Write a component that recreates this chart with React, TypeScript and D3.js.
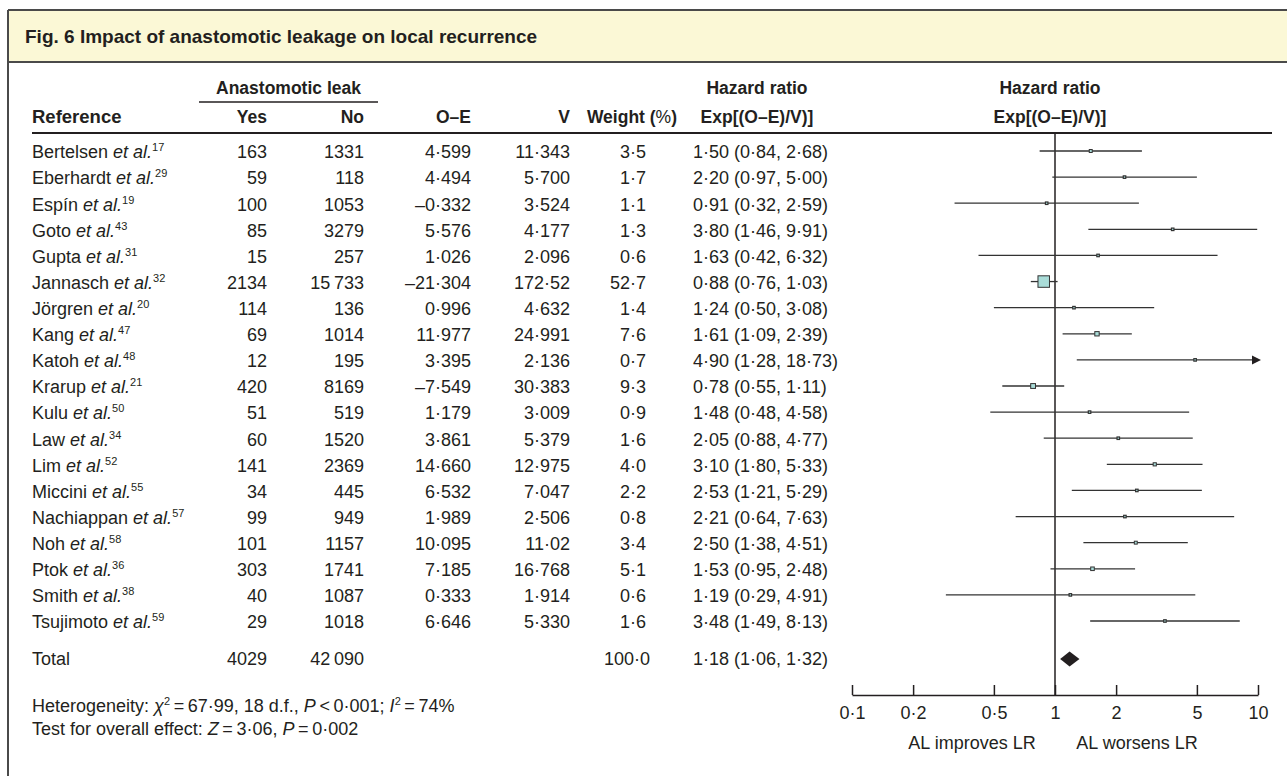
import * as d3 from 'd3';

const studies = ['Bertelsen', 'Eberhardt', 'Espín', 'Goto', 'Gupta', 'Jannasch', 'Jörgren', 'Kang', 'Katoh', 'Krarup', 'Kulu', 'Law', 'Lim', 'Miccini', 'Nachiappan', 'Noh', 'Ptok', 'Smith', 'Tsujimoto'];
const refNums = ['17', '29', '19', '43', '31', '32', '20', '47', '48', '21', '50', '34', '52', '55', '57', '58', '36', '38', '59'];
const leakYes = ['163', '59', '100', '85', '15', '2134', '114', '69', '12', '420', '51', '60', '141', '34', '99', '101', '303', '40', '29'];
const leakNo = ['1331', '118', '1053', '3279', '257', '15\u2009733', '136', '1014', '195', '8169', '519', '1520', '2369', '445', '949', '1157', '1741', '1087', '1018'];
const oMinusE = ['4·599', '4·494', '–0·332', '5·576', '1·026', '–21·304', '0·996', '11·977', '3·395', '–7·549', '1·179', '3·861', '14·660', '6·532', '1·989', '10·095', '7·185', '0·333', '6·646'];
const variance = ['11·343', '5·700', '3·524', '4·177', '2·096', '172·52', '4·632', '24·991', '2·136', '30·383', '3·009', '5·379', '12·975', '7·047', '2·506', '11·02', '16·768', '1·914', '5·330'];
const weights = [3.5, 1.7, 1.1, 1.3, 0.6, 52.7, 1.4, 7.6, 0.7, 9.3, 0.9, 1.6, 4.0, 2.2, 0.8, 3.4, 5.1, 0.6, 1.6];
const hr = [1.50, 2.20, 0.91, 3.80, 1.63, 0.88, 1.24, 1.61, 4.90, 0.78, 1.48, 2.05, 3.10, 2.53, 2.21, 2.50, 1.53, 1.19, 3.48];
const hrLow = [0.84, 0.97, 0.32, 1.46, 0.42, 0.76, 0.50, 1.09, 1.28, 0.55, 0.48, 0.88, 1.80, 1.21, 0.64, 1.38, 0.95, 0.29, 1.49];
const hrHigh = [2.68, 5.00, 2.59, 9.91, 6.32, 1.03, 3.08, 2.39, 18.73, 1.11, 4.58, 4.77, 5.33, 5.29, 7.63, 4.51, 2.48, 4.91, 8.13];

const totalYes = '4029';
const totalNo = '42\u2009090';
const totalWeight = 100.0;
const totalHr = 1.18;
const totalLow = 1.06;
const totalHigh = 1.32;

const axisTicks = [0.1, 0.2, 0.5, 1, 2, 5, 10];

const W = 1287;
const H = 776;
const FONT = '"Liberation Sans", Arial, Helvetica, sans-serif';
const INK = '#231f20';
const FS = 18;
const FS_HEAD = 17.5;

const fmt = (v: number, d = 2) => v.toFixed(d).replace('.', '·');

export default function App() {
  const x = d3.scaleLog().domain([0.1, 10]).range([852, 1258]);
  const y = d3.scalePoint<string>().domain(studies).range([152, 622]);
  const totalY = 659;
  const axisY = 695;
  const side = d3.scaleSqrt().domain([0, 52.7]).range([0, 11.5]);

  const colYes = 267;
  const colNo = 364;
  const colOE = 471;
  const colV = 570;
  const colW = 646;
  const colHR = 693;

  const axisRef = (node: SVGGElement | null) => {
    if (!node) return;
    const g = d3.select(node);
    g.selectAll('*').remove();
    g.call(
      d3.axisBottom(x)
        .tickValues(axisTicks)
        .tickFormat((d: d3.NumberValue) => String(d.valueOf()).replace('.', '·'))
        .tickSizeInner(-10)
        .tickSizeOuter(0)
        .tickPadding(11)
    );
    g.select('.domain').attr('stroke', INK).attr('stroke-width', 1.5);
    g.selectAll('.tick line').attr('stroke', INK).attr('stroke-width', 1.5);
    g.selectAll('.tick text')
      .attr('fill', INK)
      .style('font-family', FONT)
      .style('font-size', `${FS}px`);
  };

  const numStyle = { fontFamily: FONT, fontSize: FS, fill: INK } as const;
  const headStyle = { fontFamily: FONT, fontSize: FS_HEAD, fill: INK, fontWeight: 700 } as const;

  return (
    <svg width={W} height={H} style={{ position: 'absolute', left: 0, top: 0, background: '#fff' }}>
      {/* frame + title band */}
      <rect x={8} y={10} width={W} height={52} fill="#fbf8d6" />
      <line x1={8} x2={W} y1={10} y2={10} stroke="#4a4a4a" strokeWidth={2} />
      <line x1={8} x2={W} y1={62} y2={62} stroke="#4a4a4a" strokeWidth={2} />
      <line x1={8} x2={8} y1={10} y2={H} stroke="#4a4a4a" strokeWidth={2} />
      <text x={25} y={36} dy="0.35em" style={{ fontFamily: FONT, fontSize: 19, fontWeight: 700, fill: INK }}>
        Fig. 6 Impact of anastomotic leakage on local recurrence
      </text>

      {/* column headers */}
      <text x={(199 + 378) / 2} y={88} dy="0.35em" textAnchor="middle" style={headStyle}>Anastomotic leak</text>
      <line x1={199} x2={378} y1={102} y2={102} stroke={INK} strokeWidth={1.5} />
      <text x={32} y={117} dy="0.35em" style={{ ...headStyle, fontSize: 18.5 }}>Reference</text>
      <text x={colYes} y={117} dy="0.35em" textAnchor="end" style={headStyle}>Yes</text>
      <text x={colNo} y={117} dy="0.35em" textAnchor="end" style={headStyle}>No</text>
      <text x={colOE} y={117} dy="0.35em" textAnchor="end" style={headStyle}>O–E</text>
      <text x={colV} y={117} dy="0.35em" textAnchor="end" style={headStyle}>V</text>
      <text x={677} y={117} dy="0.35em" textAnchor="end" style={headStyle}>
        Weight (<tspan fontWeight={400}>%</tspan>)
      </text>
      <text x={757} y={88} dy="0.35em" textAnchor="middle" style={headStyle}>Hazard ratio</text>
      <text x={757} y={117} dy="0.35em" textAnchor="middle" style={headStyle}>Exp[(O–E)/V)]</text>
      <text x={1050} y={88} dy="0.35em" textAnchor="middle" style={headStyle}>Hazard ratio</text>
      <text x={1050} y={117} dy="0.35em" textAnchor="middle" style={headStyle}>Exp[(O–E)/V)]</text>
      <line x1={32} x2={1272} y1={133} y2={133} stroke={INK} strokeWidth={2} />

      {/* study rows */}
      {studies.map((s, i) => {
        const yy = y(s) as number;
        return (
          <g key={s}>
            <text x={32} y={yy} dy="0.35em" style={numStyle}>
              {s} <tspan fontStyle="italic">et al.</tspan>
              <tspan fontSize={11} dy={-7}>{refNums[i]}</tspan>
            </text>
            <text x={colYes} y={yy} dy="0.35em" textAnchor="end" style={numStyle}>{leakYes[i]}</text>
            <text x={colNo} y={yy} dy="0.35em" textAnchor="end" style={numStyle}>{leakNo[i]}</text>
            <text x={colOE} y={yy} dy="0.35em" textAnchor="end" style={numStyle}>{oMinusE[i]}</text>
            <text x={colV} y={yy} dy="0.35em" textAnchor="end" style={numStyle}>{variance[i]}</text>
            <text x={colW} y={yy} dy="0.35em" textAnchor="end" style={numStyle}>{fmt(weights[i], 1)}</text>
            <text x={colHR} y={yy} dy="0.35em" style={numStyle}>
              {`${fmt(hr[i])} (${fmt(hrLow[i])}, ${fmt(hrHigh[i])})`}
            </text>
          </g>
        );
      })}

      {/* total row */}
      <text x={32} y={totalY} dy="0.35em" style={numStyle}>Total</text>
      <text x={colYes} y={totalY} dy="0.35em" textAnchor="end" style={numStyle}>{totalYes}</text>
      <text x={colNo} y={totalY} dy="0.35em" textAnchor="end" style={numStyle}>{totalNo}</text>
      <text x={colW + 4} y={totalY} dy="0.35em" textAnchor="end" style={numStyle}>{fmt(totalWeight, 1)}</text>
      <text x={colHR} y={totalY} dy="0.35em" style={numStyle}>
        {`${fmt(totalHr)} (${fmt(totalLow)}, ${fmt(totalHigh)})`}
      </text>

      {/* footnotes */}
      <text x={32} y={706} dy="0.35em" style={numStyle}>
        Heterogeneity: <tspan fontStyle="italic">χ</tspan>
        <tspan fontSize={11} dy={-7}>2</tspan>
        <tspan dy={7}>{'\u2009=\u200967·99, 18 d.f., '}</tspan>
        <tspan fontStyle="italic">P</tspan>
        {'\u2009<\u20090·001; '}
        <tspan fontStyle="italic">I</tspan>
        <tspan fontSize={11} dy={-7}>2</tspan>
        <tspan dy={7}>{'\u2009=\u200974%'}</tspan>
      </text>
      <text x={32} y={729} dy="0.35em" style={numStyle}>
        Test for overall effect: <tspan fontStyle="italic">Z</tspan>
        {'\u2009=\u20093·06, '}
        <tspan fontStyle="italic">P</tspan>
        {'\u2009=\u20090·002'}
      </text>

      {/* forest plot */}
      <line x1={x(1)} x2={x(1)} y1={133} y2={axisY} stroke={INK} strokeWidth={1.5} />
      {studies.map((s, i) => {
        const yy = (y(s) as number) - 1;
        const clipped = hrHigh[i] > 10;
        const xr = clipped ? x(10) - 6 : x(hrHigh[i]);
        const sz = Math.max(side(weights[i]), 2.5);
        return (
          <g key={`f-${s}`}>
            <line x1={x(hrLow[i])} x2={xr} y1={yy} y2={yy} stroke="#333" strokeWidth={1.3} />
            {clipped && (
              <path d={`M${xr},${yy - 4.5}L${x(10) + 3},${yy}L${xr},${yy + 4.5}Z`} fill={INK} />
            )}
            <rect
              x={x(hr[i]) - sz / 2}
              y={yy - sz / 2}
              width={sz}
              height={sz}
              fill="#a9dcd8"
              stroke="#333"
              strokeWidth={weights[i] > 3 ? 1 : 1.2}
            />
          </g>
        );
      })}
      <path
        d={`M${x(totalLow)},${totalY}L${x(totalHr)},${totalY - 7.5}L${x(totalHigh)},${totalY}L${x(totalHr)},${totalY + 7.5}Z`}
        fill={INK}
      />
      <g ref={axisRef} transform={`translate(0,${axisY})`} />
      <text x={972} y={743} dy="0.35em" textAnchor="middle" style={numStyle}>AL improves LR</text>
      <text x={1137} y={743} dy="0.35em" textAnchor="middle" style={numStyle}>AL worsens LR</text>
    </svg>
  );
}
